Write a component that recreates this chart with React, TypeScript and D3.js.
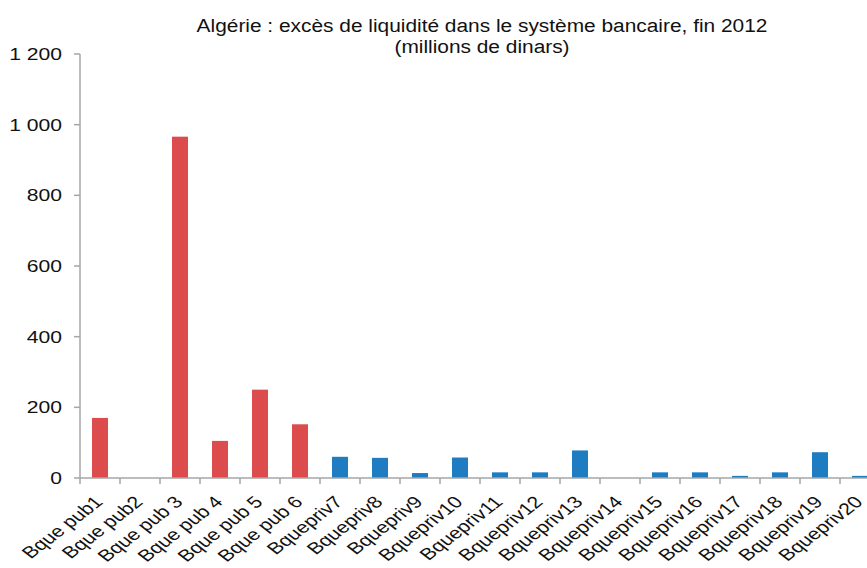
import React from "react";
import * as d3 from "d3";

// Excess liquidity by bank, end of 2012 (millions of dinars)
const banks = [
  "Bque pub1", "Bque pub2", "Bque pub 3", "Bque pub 4", "Bque pub 5", "Bque pub 6",
  "Bquepriv7", "Bquepriv8", "Bquepriv9", "Bquepriv10", "Bquepriv11", "Bquepriv12",
  "Bquepriv13", "Bquepriv14", "Bquepriv15", "Bquepriv16", "Bquepriv17", "Bquepriv18",
  "Bquepriv19", "Bquepriv20",
];
const excess = [
  170, 0, 966, 105, 250, 152,
  60, 57, 14, 58, 16, 16,
  78, 0, 16, 16, 6, 16,
  73, 6,
];
const isPublic = banks.map((b) => b.startsWith("Bque pub"));
const yTicks = [0, 200, 400, 600, 800, 1000, 1200];
const titleLines = [
  "Algérie : excès de liquidité dans le système bancaire, fin 2012",
  "(millions de dinars)",
];

const W = 867;
const H = 568;
const FONT = "'Liberation Sans', Arial, sans-serif";
const AXIS = "#a6a6a6";
const RED = "#dc4c4c";
const BLUE = "#1f7cc1";

const frFormat = d3
  .formatLocale({ decimal: ",", thousands: "\u00a0", grouping: [3], currency: ["", ""] })
  .format(",");

export default function App() {
  const x = d3
    .scaleBand<string>()
    .domain(banks)
    .range([80, 880])
    .paddingInner(0.6)
    .paddingOuter(0.3);
  const y = d3.scaleLinear().domain([0, 1200]).range([478, 54]);
  const step = x.step();
  const x0 = x.range()[0];

  return (
    <svg
      width={W}
      height={H}
      style={{ position: "absolute", left: 0, top: 0, background: "#fff" }}
      fontFamily={FONT}
    >
      {/* title */}
      {titleLines.map((t, i) => (
        <text
          key={t}
          transform={`translate(482,${32 + i * 21}) scale(1.16,1)`}
          textAnchor="middle"
          fontSize={18}
          fill="#111"
        >
          {t}
        </text>
      ))}

      {/* bars */}
      {banks.map((b, i) => (
        <rect
          key={b}
          x={x(b)}
          y={y(excess[i])}
          width={x.bandwidth()}
          height={y(0) - y(excess[i])}
          fill={isPublic[i] ? RED : BLUE}
        />
      ))}

      {/* y axis */}
      <line x1={80} x2={80} y1={y(1200)} y2={y(0)} stroke={AXIS} strokeWidth={1.5} />
      {yTicks.map((t) => (
        <g key={t}>
          <line x1={74} x2={80} y1={y(t)} y2={y(t)} stroke={AXIS} strokeWidth={1.5} />
          <text
            transform={`translate(62,${y(t)}) scale(1.28,1)`}
            textAnchor="end"
            dy="0.36em"
            fontSize={16.5}
            fill="#111"
          >
            {frFormat(t)}
          </text>
        </g>
      ))}

      {/* x axis */}
      <line x1={80} x2={W + 20} y1={y(0)} y2={y(0)} stroke={AXIS} strokeWidth={1.5} />
      {d3.range(banks.length + 1).map((i) => (
        <line
          key={i}
          x1={x0 + i * step}
          x2={x0 + i * step}
          y1={y(0)}
          y2={y(0) + 6}
          stroke={AXIS}
          strokeWidth={1.5}
        />
      ))}
      {banks.map((b) => (
        <text
          key={b}
          transform={`translate(${x(b)! + x.bandwidth() / 2 + 4},${y(0) + 25}) scale(1.3,1) rotate(-45)`}
          textAnchor="end"
          fontSize={16.5}
          fill="#111"
        >
          {b}
        </text>
      ))}
    </svg>
  );
}
